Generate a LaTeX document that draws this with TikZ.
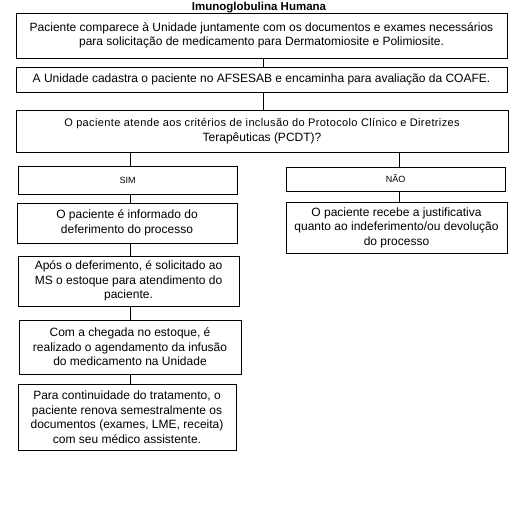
\documentclass[tikz,border=0pt]{standalone}
\usepackage{fontspec}
\setmainfont{Liberation Sans}
\usepackage{tikz}
\tikzset{caixa/.style={draw, thick, align=center, inner sep=2pt,
    font=\fontsize{12}{14.5}\selectfont},
  ligacao/.style={draw, thick}}

\begin{document}
\begin{tikzpicture}[x=1pt, y=-1pt]
\useasboundingbox (0,0) rectangle (518,511);
\node[font=\bfseries\fontsize{11.5}{12}\selectfont] (titulo) at (259,7.5) {Imunoglobulina Humana};
\node[caixa, minimum width=491pt, minimum height=45pt] (comparece) at (261.5,35.5)
  {Paciente comparece à Unidade juntamente com os documentos e exames necessários\\
   para solicitação de medicamento para Dermatomiosite e Polimiosite.};
\node[caixa, minimum width=491pt, minimum height=25pt] (cadastra) at (261.5,79.5)
  {A Unidade cadastra o paciente no AFSESAB e encaminha para avaliação da COAFE.};
\node[caixa, minimum width=492pt, minimum height=42pt] (criterios) at (262,131)
  {{\fontsize{11}{14.5}\selectfont\addfontfeature{LetterSpace=3.4}O paciente atende aos critérios de inclusão do Protocolo Clínico e Diretrizes}\\
   Terapêuticas (PCDT)?};
\node[caixa, font=\fontsize{9}{11}\selectfont, minimum width=219pt, minimum height=28pt] (sim) at (127.5,180) {SIM};
\node[caixa, font=\fontsize{9}{11}\selectfont, minimum width=219pt, minimum height=24pt] (nao) at (395.5,179) {NÃO};
\node[caixa, minimum width=221pt, minimum height=51pt] (indeferido) at (396.5,227.5)
  {O paciente recebe a justificativa\\quanto ao indeferimento/ou devolução\\do processo};
\node[caixa, minimum width=220pt, minimum height=40pt] (informado) at (127,223)
  {O paciente é informado do\\deferimento do processo};
\node[caixa, minimum width=221pt, minimum height=50pt] (solicitado) at (128.5,281)
  {Após o deferimento, é solicitado ao\\MS o estoque para atendimento do\\paciente.};
\node[caixa, minimum width=222pt, minimum height=54pt] (agendamento) at (130,347)
  {Com a chegada no estoque, é\\realizado o agendamento da infusão\\do medicamento na Unidade};
\node[caixa, minimum width=218pt, minimum height=66pt] (renova) at (127,417)
  {Para continuidade do tratamento, o\\paciente renova semestralmente os\\documentos (exames, LME, receita)\\com seu médico assistente.};

% colunas das ligacoes
\coordinate (meio) at (263,0);
\coordinate (colsim) at (130,0);
\coordinate (colnao) at (399,0);

% ligacoes
\draw[ligacao] (comparece.south -| meio) -- (cadastra.north -| meio);
\draw[ligacao] (cadastra.south -| meio) -- (criterios.north -| meio);
\draw[ligacao] (criterios.south -| colsim) -- (sim.north -| colsim);
\draw[ligacao] (criterios.south -| colnao) -- (nao.north -| colnao);
\draw[ligacao] (sim.south -| colsim) -- (informado.north -| colsim);
\draw[ligacao] (nao.south -| colnao) -- (indeferido.north -| colnao);
\draw[ligacao] (informado.south -| colsim) -- (solicitado.north -| colsim);
\draw[ligacao] (solicitado.south -| colsim) -- (agendamento.north -| colsim);
\draw[ligacao] (agendamento.south -| colsim) -- (renova.north -| colsim);
\end{tikzpicture}
\end{document}
